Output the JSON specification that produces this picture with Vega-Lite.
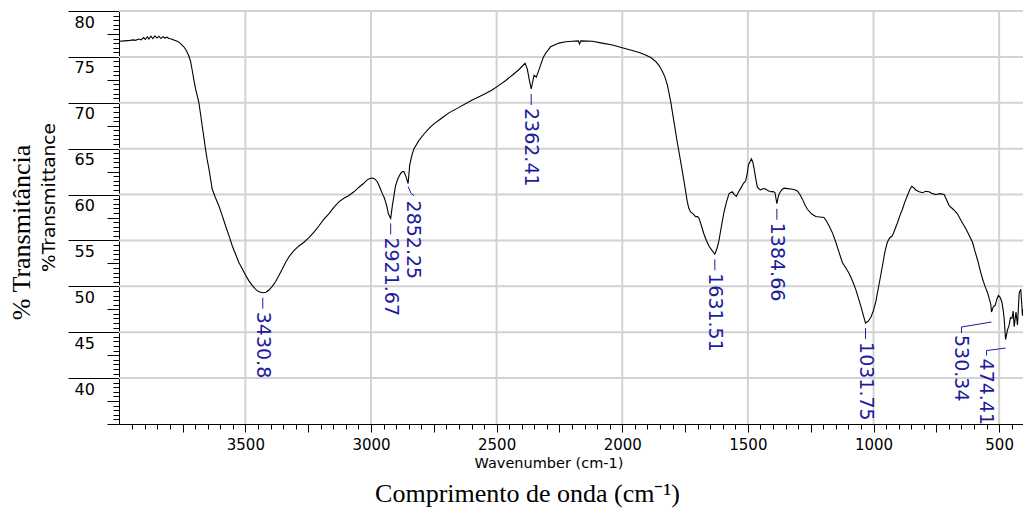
{
  "$schema": "https://vega.github.io/schema/vega-lite/v6.json",
  "width": 904,
  "height": 413,
  "autosize": "none",
  "padding": {"left": 119, "top": 11, "right": 0, "bottom": 89},
  "background": "white",
  "config": {
    "view": {"stroke": null},
    "axis": {"labelFlush": false, "labelOverlap": false, "tickColor": "black", "domainColor": "black", "titleFontWeight": "normal", "titleColor": "black", "labelColor": "black"}
  },
  "datasets": {
    "spectrum": [
      {"wn": 4003, "T": 76.7}, {"wn": 3980, "T": 76.75}, {"wn": 3960, "T": 76.8}, {"wn": 3945, "T": 76.85},
      {"wn": 3937, "T": 76.8}, {"wn": 3925, "T": 76.95}, {"wn": 3915, "T": 76.85}, {"wn": 3905, "T": 77.1},
      {"wn": 3898, "T": 76.9}, {"wn": 3890, "T": 77.2}, {"wn": 3884, "T": 76.95}, {"wn": 3876, "T": 77.25},
      {"wn": 3868, "T": 77.0}, {"wn": 3860, "T": 77.3}, {"wn": 3852, "T": 77.05}, {"wn": 3844, "T": 77.25},
      {"wn": 3836, "T": 77.0}, {"wn": 3828, "T": 77.2}, {"wn": 3820, "T": 77.05}, {"wn": 3812, "T": 77.15},
      {"wn": 3805, "T": 77.0}, {"wn": 3795, "T": 76.95}, {"wn": 3785, "T": 76.85}, {"wn": 3771, "T": 76.7},
      {"wn": 3760, "T": 76.5}, {"wn": 3745, "T": 76.1}, {"wn": 3735, "T": 75.7}, {"wn": 3725, "T": 75.1},
      {"wn": 3718, "T": 74.5}, {"wn": 3712, "T": 73.6}, {"wn": 3705, "T": 72.5}, {"wn": 3698, "T": 71.5},
      {"wn": 3690, "T": 70.6}, {"wn": 3685, "T": 70.0}, {"wn": 3678, "T": 68.7}, {"wn": 3672, "T": 67.5},
      {"wn": 3665, "T": 66.2}, {"wn": 3659, "T": 65.0}, {"wn": 3652, "T": 63.8}, {"wn": 3645, "T": 62.8},
      {"wn": 3638, "T": 61.6}, {"wn": 3632, "T": 60.6}, {"wn": 3620, "T": 59.7}, {"wn": 3606, "T": 58.8},
      {"wn": 3592, "T": 57.7}, {"wn": 3579, "T": 56.6}, {"wn": 3565, "T": 55.5}, {"wn": 3552, "T": 54.4},
      {"wn": 3539, "T": 53.5}, {"wn": 3526, "T": 52.6}, {"wn": 3512, "T": 51.9}, {"wn": 3499, "T": 51.2},
      {"wn": 3486, "T": 50.6}, {"wn": 3473, "T": 50.1}, {"wn": 3460, "T": 49.7}, {"wn": 3446, "T": 49.4},
      {"wn": 3430.8, "T": 49.3}, {"wn": 3418, "T": 49.35}, {"wn": 3406, "T": 49.6}, {"wn": 3393, "T": 50.0},
      {"wn": 3380, "T": 50.5}, {"wn": 3366, "T": 51.2}, {"wn": 3353, "T": 51.9}, {"wn": 3340, "T": 52.6},
      {"wn": 3327, "T": 53.2}, {"wn": 3307, "T": 53.9}, {"wn": 3287, "T": 54.4}, {"wn": 3267, "T": 54.8},
      {"wn": 3247, "T": 55.3}, {"wn": 3227, "T": 55.9}, {"wn": 3207, "T": 56.6}, {"wn": 3188, "T": 57.3},
      {"wn": 3168, "T": 57.9}, {"wn": 3148, "T": 58.6}, {"wn": 3128, "T": 59.2}, {"wn": 3108, "T": 59.6},
      {"wn": 3088, "T": 59.9}, {"wn": 3068, "T": 60.3}, {"wn": 3048, "T": 60.8}, {"wn": 3030, "T": 61.2},
      {"wn": 3015, "T": 61.6}, {"wn": 3005, "T": 61.75}, {"wn": 2995, "T": 61.8}, {"wn": 2985, "T": 61.7},
      {"wn": 2975, "T": 61.4}, {"wn": 2965, "T": 60.8}, {"wn": 2955, "T": 60.1}, {"wn": 2948, "T": 59.7},
      {"wn": 2942, "T": 59.2}, {"wn": 2936, "T": 58.6}, {"wn": 2931, "T": 57.9}, {"wn": 2921.67, "T": 57.4},
      {"wn": 2915, "T": 58.8}, {"wn": 2908, "T": 60.0}, {"wn": 2902, "T": 61.0}, {"wn": 2892, "T": 61.8},
      {"wn": 2882, "T": 62.3}, {"wn": 2875, "T": 62.5}, {"wn": 2869, "T": 62.5}, {"wn": 2860, "T": 61.9},
      {"wn": 2852.25, "T": 61.2}, {"wn": 2846, "T": 63.2}, {"wn": 2838, "T": 64.2}, {"wn": 2829, "T": 65.0},
      {"wn": 2809, "T": 65.9}, {"wn": 2789, "T": 66.6}, {"wn": 2769, "T": 67.2}, {"wn": 2750, "T": 67.7},
      {"wn": 2730, "T": 68.1}, {"wn": 2710, "T": 68.5}, {"wn": 2690, "T": 68.9}, {"wn": 2670, "T": 69.2},
      {"wn": 2650, "T": 69.5}, {"wn": 2624, "T": 69.9}, {"wn": 2597, "T": 70.3}, {"wn": 2570, "T": 70.65},
      {"wn": 2544, "T": 71.0}, {"wn": 2518, "T": 71.4}, {"wn": 2491, "T": 71.9}, {"wn": 2465, "T": 72.4},
      {"wn": 2438, "T": 73.0}, {"wn": 2412, "T": 73.6}, {"wn": 2387, "T": 74.3}, {"wn": 2378, "T": 73.7},
      {"wn": 2370, "T": 72.5}, {"wn": 2362.41, "T": 71.5}, {"wn": 2351, "T": 73.0}, {"wn": 2342, "T": 72.8},
      {"wn": 2325, "T": 74.1}, {"wn": 2315, "T": 74.9}, {"wn": 2305, "T": 75.4}, {"wn": 2285, "T": 76.1},
      {"wn": 2252, "T": 76.5}, {"wn": 2225, "T": 76.65}, {"wn": 2199, "T": 76.7}, {"wn": 2175, "T": 76.75},
      {"wn": 2170, "T": 76.4}, {"wn": 2165, "T": 76.75}, {"wn": 2119, "T": 76.7}, {"wn": 2080, "T": 76.5},
      {"wn": 2039, "T": 76.3}, {"wn": 2000, "T": 76.0}, {"wn": 1960, "T": 75.7}, {"wn": 1930, "T": 75.45},
      {"wn": 1907, "T": 75.2}, {"wn": 1885, "T": 74.9}, {"wn": 1867, "T": 74.5}, {"wn": 1852, "T": 74.0},
      {"wn": 1840, "T": 73.4}, {"wn": 1830, "T": 72.8}, {"wn": 1820, "T": 71.9}, {"wn": 1807, "T": 70.1},
      {"wn": 1794, "T": 67.9}, {"wn": 1781, "T": 65.7}, {"wn": 1767, "T": 63.5}, {"wn": 1754, "T": 61.4},
      {"wn": 1741, "T": 59.2}, {"wn": 1735, "T": 58.5}, {"wn": 1728, "T": 58.1}, {"wn": 1718, "T": 57.9},
      {"wn": 1708, "T": 57.6}, {"wn": 1700, "T": 57.6}, {"wn": 1694, "T": 57.4}, {"wn": 1685, "T": 56.6},
      {"wn": 1675, "T": 55.7}, {"wn": 1665, "T": 55.0}, {"wn": 1655, "T": 54.4}, {"wn": 1645, "T": 54.0},
      {"wn": 1631.51, "T": 53.5}, {"wn": 1622, "T": 54.2}, {"wn": 1615, "T": 55.0}, {"wn": 1605, "T": 56.6},
      {"wn": 1595, "T": 58.1}, {"wn": 1585, "T": 59.2}, {"wn": 1575, "T": 60.1}, {"wn": 1562, "T": 60.3},
      {"wn": 1554, "T": 60.0}, {"wn": 1546, "T": 59.8}, {"wn": 1537, "T": 60.3}, {"wn": 1528, "T": 60.7},
      {"wn": 1518, "T": 61.2}, {"wn": 1509, "T": 61.5}, {"wn": 1503, "T": 62.2}, {"wn": 1498, "T": 63.2},
      {"wn": 1486, "T": 63.9}, {"wn": 1480, "T": 63.5}, {"wn": 1475, "T": 62.8}, {"wn": 1468, "T": 61.6},
      {"wn": 1462, "T": 60.8}, {"wn": 1455, "T": 60.6}, {"wn": 1449, "T": 60.5}, {"wn": 1439, "T": 60.65},
      {"wn": 1429, "T": 60.6}, {"wn": 1419, "T": 60.4}, {"wn": 1409, "T": 60.3}, {"wn": 1400, "T": 60.35},
      {"wn": 1392, "T": 60.2}, {"wn": 1384.66, "T": 59.0}, {"wn": 1378, "T": 59.9}, {"wn": 1373, "T": 60.2},
      {"wn": 1364, "T": 60.55}, {"wn": 1356, "T": 60.7}, {"wn": 1342, "T": 60.65}, {"wn": 1329, "T": 60.6},
      {"wn": 1316, "T": 60.55}, {"wn": 1303, "T": 60.4}, {"wn": 1293, "T": 60.0}, {"wn": 1283, "T": 59.5},
      {"wn": 1273, "T": 58.9}, {"wn": 1263, "T": 58.4}, {"wn": 1247, "T": 57.9}, {"wn": 1230, "T": 57.6},
      {"wn": 1214, "T": 57.55}, {"wn": 1197, "T": 57.5}, {"wn": 1187, "T": 57.1}, {"wn": 1177, "T": 56.6},
      {"wn": 1163, "T": 55.8}, {"wn": 1150, "T": 54.8}, {"wn": 1137, "T": 53.7}, {"wn": 1124, "T": 52.6},
      {"wn": 1110, "T": 52.0}, {"wn": 1097, "T": 51.4}, {"wn": 1084, "T": 50.6}, {"wn": 1071, "T": 49.7},
      {"wn": 1061, "T": 48.8}, {"wn": 1051, "T": 47.9}, {"wn": 1041, "T": 46.9}, {"wn": 1031.75, "T": 46.0},
      {"wn": 1021, "T": 46.2}, {"wn": 1011, "T": 46.6}, {"wn": 1001, "T": 47.3}, {"wn": 991, "T": 48.3},
      {"wn": 978, "T": 50.2}, {"wn": 964, "T": 52.3}, {"wn": 955, "T": 53.7}, {"wn": 945, "T": 54.8},
      {"wn": 935, "T": 55.3}, {"wn": 925, "T": 55.5}, {"wn": 915, "T": 56.2}, {"wn": 905, "T": 56.9},
      {"wn": 895, "T": 57.7}, {"wn": 885, "T": 58.4}, {"wn": 875, "T": 59.2}, {"wn": 865, "T": 59.9},
      {"wn": 856, "T": 60.5}, {"wn": 848, "T": 60.9}, {"wn": 840, "T": 60.75}, {"wn": 832, "T": 60.5},
      {"wn": 818, "T": 60.3}, {"wn": 805, "T": 60.2}, {"wn": 792, "T": 60.35}, {"wn": 779, "T": 60.3},
      {"wn": 765, "T": 60.1}, {"wn": 752, "T": 60.0}, {"wn": 735, "T": 60.1}, {"wn": 719, "T": 60.0},
      {"wn": 709, "T": 59.4}, {"wn": 699, "T": 58.8}, {"wn": 683, "T": 58.4}, {"wn": 666, "T": 57.9},
      {"wn": 650, "T": 57.1}, {"wn": 633, "T": 56.3}, {"wn": 620, "T": 55.6}, {"wn": 606, "T": 54.8},
      {"wn": 596, "T": 53.8}, {"wn": 586, "T": 52.9}, {"wn": 576, "T": 51.8}, {"wn": 566, "T": 50.8},
      {"wn": 556, "T": 50.0}, {"wn": 546, "T": 49.3}, {"wn": 539, "T": 48.6}, {"wn": 533, "T": 48.0},
      {"wn": 530.34, "T": 47.2}, {"wn": 523, "T": 47.8}, {"wn": 516, "T": 47.9}, {"wn": 509, "T": 48.6},
      {"wn": 503, "T": 49.0}, {"wn": 496, "T": 48.8}, {"wn": 489, "T": 48.3}, {"wn": 484, "T": 47.4},
      {"wn": 480, "T": 46.5}, {"wn": 474.41, "T": 44.2}, {"wn": 467, "T": 45.2}, {"wn": 460, "T": 45.8},
      {"wn": 455, "T": 46.6}, {"wn": 449, "T": 46.5}, {"wn": 444, "T": 47.3}, {"wn": 440, "T": 45.6},
      {"wn": 433, "T": 47.2}, {"wn": 427, "T": 45.8}, {"wn": 420, "T": 49.3}, {"wn": 414, "T": 49.7},
      {"wn": 407, "T": 46.8}, {"wn": 405, "T": 47.5}
    ],
    "peaks": [
      {"wn": 3430.8, "T": 49.3, "label": "3430.8"},
      {"wn": 2921.67, "T": 57.4, "label": "2921.67"},
      {"wn": 2852.25, "T": 61.2, "label": "2852.25"},
      {"wn": 2362.41, "T": 71.5, "label": "2362.41"},
      {"wn": 1631.51, "T": 53.5, "label": "1631.51"},
      {"wn": 1384.66, "T": 59.0, "label": "1384.66"},
      {"wn": 1031.75, "T": 46.0, "label": "1031.75"},
      {"wn": 530.34, "T": 47.2, "label": "530.34"},
      {"wn": 474.41, "T": 44.2, "label": "474.41"}
    ],
    "gridWavenumbers": [
      {"wn": 3500}, {"wn": 3000}, {"wn": 2500}, {"wn": 2000}, {"wn": 1500}, {"wn": 1000}, {"wn": 500}
    ],
    "gridTransmittance": [
      {"T": 40}, {"T": 45}, {"T": 50}, {"T": 55}, {"T": 60}, {"T": 65}, {"T": 70}, {"T": 75}, {"T": 80}
    ]
  },
  "resolve": {"axis": {"x": "independent", "y": "independent"}},
  "layer": [
    {
      "data": {"name": "gridWavenumbers"},
      "mark": {"type": "rule", "color": "#d2d2d2", "strokeWidth": 2},
      "encoding": {
        "x": {"field": "wn", "type": "quantitative", "scale": {"domain": [405, 4003], "reverse": true, "nice": false, "zero": false}, "axis": null},
        "y": {"datum": 80, "type": "quantitative", "scale": {"domain": [35, 80], "nice": false, "zero": false}, "axis": null},
        "y2": {"datum": 35}
      }
    },
    {
      "data": {"name": "gridTransmittance"},
      "mark": {"type": "rule", "color": "#d2d2d2", "strokeWidth": 2},
      "encoding": {
        "y": {"field": "T", "type": "quantitative", "scale": {"domain": [35, 80], "nice": false, "zero": false}, "axis": null},
        "x": {"datum": 4003, "type": "quantitative", "scale": {"domain": [405, 4003], "reverse": true, "nice": false, "zero": false}, "axis": null},
        "x2": {"datum": 405}
      }
    },
    {
      "data": {"name": "spectrum"},
      "mark": {"type": "line", "color": "black", "strokeWidth": 1.1},
      "encoding": {
        "x": {"field": "wn", "type": "quantitative", "scale": {"domain": [405, 4003], "reverse": true, "nice": false, "zero": false},
          "axis": {"orient": "bottom", "values": [3500, 3000, 2500, 2000, 1500, 1000, 500], "format": "d",
            "grid": false, "domain": true, "domainWidth": 1,
            "tickSize": 8, "labelPadding": 5, "labelFont": "DejaVu Sans", "labelFontSize": 15,
            "title": "Wavenumber (cm-1)", "titleFont": "DejaVu Sans", "titleFontSize": 14.5,
            "titleX": 429.5, "titleY": 43, "titleAlign": "center", "titleBaseline": "alphabetic"}},
        "y": {"field": "T", "type": "quantitative", "scale": {"domain": [35, 80], "nice": false, "zero": false},
          "axis": {"orient": "left", "values": [40, 45, 50, 55, 60, 65, 70, 75, 80], "format": "d",
            "grid": false, "domain": true, "domainWidth": 1,
            "tickSize": 51, "labelPadding": -6, "labelAlign": "left", "labelBaseline": "top", "labelOffset": 3,
            "labelFont": "DejaVu Sans", "labelFontSize": 16,
            "title": "%Transmittance", "titleFont": "DejaVu Sans", "titleFontSize": 18.5,
            "titleX": -71, "titleY": 186, "titleAngle": 270, "titleAlign": "center", "titleBaseline": "middle"}}
      }
    },
    {
      "data": {"name": "spectrum"},
      "mark": {"type": "line", "strokeOpacity": 0},
      "encoding": {
        "x": {"field": "wn", "type": "quantitative", "scale": {"domain": [405, 4003], "reverse": true, "nice": false, "zero": false},
          "axis": {"orient": "bottom", "values": [3950,3900,3850,3800,3750,3700,3650,3600,3550,3500,3450,3400,3350,3300,3250,3200,3150,3100,3050,3000,2950,2900,2850,2800,2750,2700,2650,2600,2550,2500,2450,2400,2350,2300,2250,2200,2150,2100,2050,2000,1950,1900,1850,1800,1750,1700,1650,1600,1550,1500,1450,1400,1350,1300,1250,1200,1150,1100,1050,1000,950,900,850,800,750,700,650,600,550,500,450],
            "labels": false, "grid": false, "domain": false, "tickSize": 5, "title": null}},
        "y": {"field": "T", "type": "quantitative", "scale": {"domain": [35, 80], "nice": false, "zero": false},
          "axis": {"orient": "left", "values": [35.5,36,36.5,37,37.5,38,38.5,39,39.5,40,40.5,41,41.5,42,42.5,43,43.5,44,44.5,45,45.5,46,46.5,47,47.5,48,48.5,49,49.5,50,50.5,51,51.5,52,52.5,53,53.5,54,54.5,55,55.5,56,56.5,57,57.5,58,58.5,59,59.5,60,60.5,61,61.5,62,62.5,63,63.5,64,64.5,65,65.5,66,66.5,67,67.5,68,68.5,69,69.5,70,70.5,71,71.5,72,72.5,73,73.5,74,74.5,75,75.5,76,76.5,77,77.5,78,78.5,79,79.5,80],
            "labels": false, "grid": false, "domain": false, "tickSize": 6, "title": null}}
      }
    },
    {
      "data": {"name": "spectrum"},
      "mark": {"type": "line", "strokeOpacity": 0},
      "encoding": {
        "x": {"field": "wn", "type": "quantitative", "scale": {"domain": [405, 4003], "reverse": true, "nice": false, "zero": false},
          "axis": {"orient": "bottom", "values": [3750, 3250, 2750, 2250, 1750, 1250, 750],
            "labels": false, "grid": false, "domain": false, "tickSize": 8,
            "title": "Comprimento de onda (cm⁻¹)", "titleFont": "Liberation Serif", "titleFontSize": 26,
            "titleX": 408, "titleY": 77, "titleAlign": "center", "titleBaseline": "alphabetic"}},
        "y": {"field": "T", "type": "quantitative", "scale": {"domain": [35, 80], "nice": false, "zero": false},
          "axis": {"orient": "left", "values": [35, 37.5, 42.5, 47.5, 52.5, 57.5, 62.5, 67.5, 72.5, 77.5],
            "labels": false, "grid": false, "domain": false, "tickSize": 12,
            "title": "% Transmitância", "titleFont": "Liberation Serif", "titleFontSize": 26,
            "titleX": -98, "titleY": 221, "titleAngle": 270, "titleAlign": "center", "titleBaseline": "middle"}}
      }
    },
    {
      "data": {"name": "peaks"},
      "transform": [{"filter": "indexof(['2852.25', '530.34', '474.41'], datum.label) < 0"}],
      "mark": {"type": "rule", "color": "#1c1c9c", "strokeWidth": 1, "yOffset": 5, "y2Offset": 16},
      "encoding": {
        "x": {"field": "wn", "type": "quantitative", "scale": {"domain": [405, 4003], "reverse": true, "nice": false, "zero": false}, "axis": null},
        "y": {"field": "T", "type": "quantitative", "scale": {"domain": [35, 80], "nice": false, "zero": false}, "axis": null},
        "y2": {"field": "T"}
      }
    },
    {
      "data": {"name": "peaks"},
      "transform": [{"filter": "indexof(['2852.25', '530.34', '474.41'], datum.label) < 0"}],
      "mark": {"type": "text", "color": "#1c1c9c", "font": "DejaVu Sans", "fontSize": 19, "angle": 90, "align": "left", "baseline": "middle", "dx": 19},
      "encoding": {
        "x": {"field": "wn", "type": "quantitative", "scale": {"domain": [405, 4003], "reverse": true, "nice": false, "zero": false}, "axis": null},
        "y": {"field": "T", "type": "quantitative", "scale": {"domain": [35, 80], "nice": false, "zero": false}, "axis": null},
        "text": {"field": "label"}
      }
    },
    {
      "data": {"name": "peaks"},
      "transform": [{"filter": "datum.label === '2852.25'"}],
      "mark": {"type": "rule", "color": "#1c1c9c", "strokeWidth": 1, "yOffset": 3, "xOffset": 0, "y2Offset": 10, "x2Offset": 3},
      "encoding": {
        "x": {"field": "wn", "type": "quantitative", "scale": {"domain": [405, 4003], "reverse": true, "nice": false, "zero": false}, "axis": null},
        "y": {"field": "T", "type": "quantitative", "scale": {"domain": [35, 80], "nice": false, "zero": false}, "axis": null},
        "x2": {"field": "wn"},
        "y2": {"field": "T"}
      }
    },
    {
      "data": {"name": "peaks"},
      "transform": [{"filter": "datum.label === '2852.25'"}],
      "mark": {"type": "rule", "color": "#1c1c9c", "strokeWidth": 1, "yOffset": 10, "xOffset": 3, "y2Offset": 12, "x2Offset": 6},
      "encoding": {
        "x": {"field": "wn", "type": "quantitative", "scale": {"domain": [405, 4003], "reverse": true, "nice": false, "zero": false}, "axis": null},
        "y": {"field": "T", "type": "quantitative", "scale": {"domain": [35, 80], "nice": false, "zero": false}, "axis": null},
        "x2": {"field": "wn"},
        "y2": {"field": "T"}
      }
    },
    {
      "data": {"name": "peaks"},
      "transform": [{"filter": "datum.label === '2852.25'"}],
      "mark": {"type": "text", "color": "#1c1c9c", "font": "DejaVu Sans", "fontSize": 19, "angle": 90, "align": "left", "baseline": "middle", "dx": 17, "dy": -5},
      "encoding": {
        "x": {"field": "wn", "type": "quantitative", "scale": {"domain": [405, 4003], "reverse": true, "nice": false, "zero": false}, "axis": null},
        "y": {"field": "T", "type": "quantitative", "scale": {"domain": [35, 80], "nice": false, "zero": false}, "axis": null},
        "text": {"field": "label"}
      }
    },
    {
      "data": {"name": "peaks"},
      "transform": [{"filter": "datum.label === '530.34'"}],
      "mark": {"type": "rule", "color": "#1c1c9c", "strokeWidth": 1, "yOffset": 10, "xOffset": 0, "y2Offset": 15, "x2Offset": -30},
      "encoding": {
        "x": {"field": "wn", "type": "quantitative", "scale": {"domain": [405, 4003], "reverse": true, "nice": false, "zero": false}, "axis": null},
        "y": {"field": "T", "type": "quantitative", "scale": {"domain": [35, 80], "nice": false, "zero": false}, "axis": null},
        "x2": {"field": "wn"},
        "y2": {"field": "T"}
      }
    },
    {
      "data": {"name": "peaks"},
      "transform": [{"filter": "datum.label === '530.34'"}],
      "mark": {"type": "rule", "color": "#1c1c9c", "strokeWidth": 1, "yOffset": 15, "xOffset": -30, "y2Offset": 21, "x2Offset": -30},
      "encoding": {
        "x": {"field": "wn", "type": "quantitative", "scale": {"domain": [405, 4003], "reverse": true, "nice": false, "zero": false}, "axis": null},
        "y": {"field": "T", "type": "quantitative", "scale": {"domain": [35, 80], "nice": false, "zero": false}, "axis": null},
        "x2": {"field": "wn"},
        "y2": {"field": "T"}
      }
    },
    {
      "data": {"name": "peaks"},
      "transform": [{"filter": "datum.label === '530.34'"}],
      "mark": {"type": "text", "color": "#1c1c9c", "font": "DejaVu Sans", "fontSize": 19, "angle": 90, "align": "left", "baseline": "middle", "dx": 23, "dy": 31},
      "encoding": {
        "x": {"field": "wn", "type": "quantitative", "scale": {"domain": [405, 4003], "reverse": true, "nice": false, "zero": false}, "axis": null},
        "y": {"field": "T", "type": "quantitative", "scale": {"domain": [35, 80], "nice": false, "zero": false}, "axis": null},
        "text": {"field": "label"}
      }
    },
    {
      "data": {"name": "peaks"},
      "transform": [{"filter": "datum.label === '474.41'"}],
      "mark": {"type": "rule", "color": "#1c1c9c", "strokeWidth": 1, "yOffset": 8.5, "xOffset": 0, "y2Offset": 11, "x2Offset": -19},
      "encoding": {
        "x": {"field": "wn", "type": "quantitative", "scale": {"domain": [405, 4003], "reverse": true, "nice": false, "zero": false}, "axis": null},
        "y": {"field": "T", "type": "quantitative", "scale": {"domain": [35, 80], "nice": false, "zero": false}, "axis": null},
        "x2": {"field": "wn"},
        "y2": {"field": "T"}
      }
    },
    {
      "data": {"name": "peaks"},
      "transform": [{"filter": "datum.label === '474.41'"}],
      "mark": {"type": "rule", "color": "#1c1c9c", "strokeWidth": 1, "yOffset": 11, "xOffset": -19, "y2Offset": 16, "x2Offset": -19},
      "encoding": {
        "x": {"field": "wn", "type": "quantitative", "scale": {"domain": [405, 4003], "reverse": true, "nice": false, "zero": false}, "axis": null},
        "y": {"field": "T", "type": "quantitative", "scale": {"domain": [35, 80], "nice": false, "zero": false}, "axis": null},
        "x2": {"field": "wn"},
        "y2": {"field": "T"}
      }
    },
    {
      "data": {"name": "peaks"},
      "transform": [{"filter": "datum.label === '474.41'"}],
      "mark": {"type": "text", "color": "#1c1c9c", "font": "DejaVu Sans", "fontSize": 19, "angle": 90, "align": "left", "baseline": "middle", "dx": 19, "dy": 20},
      "encoding": {
        "x": {"field": "wn", "type": "quantitative", "scale": {"domain": [405, 4003], "reverse": true, "nice": false, "zero": false}, "axis": null},
        "y": {"field": "T", "type": "quantitative", "scale": {"domain": [35, 80], "nice": false, "zero": false}, "axis": null},
        "text": {"field": "label"}
      }
    }
  ]
}
